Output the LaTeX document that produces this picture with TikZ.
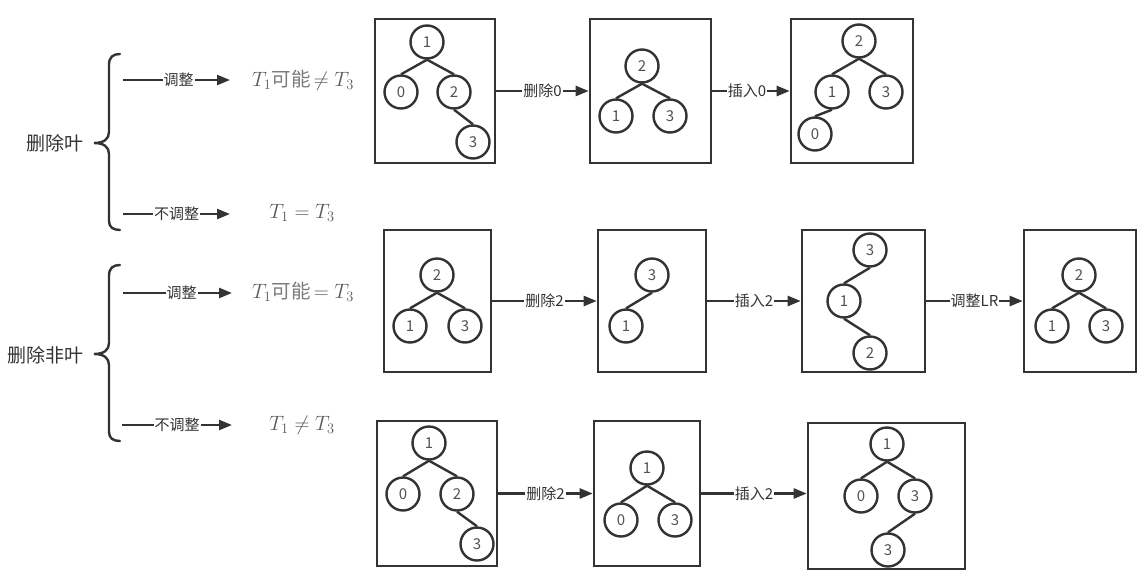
\documentclass[tikz,border=0pt]{standalone}
\usepackage{fontspec}
\setmainfont{Noto Sans CJK SC}
\usetikzlibrary{arrows.meta}
\definecolor{ink}{HTML}{333333}
\definecolor{mtext}{HTML}{5a5a5a}
\definecolor{ctext}{HTML}{7a7a7a}
\begin{document}
\begin{tikzpicture}[x=1pt,y=-1pt,
 box/.style={draw=ink,line width=2.6pt,inner sep=0pt},
 tn/.style={circle,draw=ink,line width=2.4pt,minimum size=33pt,inner sep=0pt,font=\fontsize{15}{15}\selectfont,text=ink!85},
 te/.style={draw=ink,line width=2.4pt},
 flow/.style={draw=ink,line width=2.4pt,-{Triangle[length=13pt,width=10pt]}},
 lbl/.style={fill=white,inner sep=1pt,font=\fontsize{15}{15}\selectfont,text=ink},
 big/.style={font=\fontsize{19}{19}\selectfont,text=ink},
 res/.style={font=\fontsize{19.5}{20}\selectfont,text=mtext},
 brace/.style={draw=ink,line width=2.4pt,line cap=round}]
\useasboundingbox (0,0) rectangle (1144,584);

% ---------- left part ----------
\node[big,anchor=east] (leaf) at (87,143) {删除叶};
\node[big,anchor=east] (nonleaf) at (87,355) {删除非叶};

\draw[brace] (120,54) .. controls (113,54) and (109,57) .. (109,65) -- (109,132)
  .. controls (109,139) and (104,143) .. (94,143)
  .. controls (104,143) and (109,147) .. (109,154) -- (109,221)
  .. controls (109,227) and (113,230) .. (120,230);
\draw[brace] (120,265) .. controls (113,265) and (109,268) .. (109,276) -- (109,343)
  .. controls (109,350) and (104,354) .. (94,354)
  .. controls (104,354) and (109,358) .. (109,365) -- (109,432)
  .. controls (109,438) and (113,441) .. (120,441);

\coordinate (s1) at (123,80);  \coordinate (e1) at (230,80);
\coordinate (s2) at (123,214); \coordinate (e2) at (230,214);
\coordinate (s3) at (123,293); \coordinate (e3) at (232,293);
\coordinate (s4) at (122,425); \coordinate (e4) at (232,425);
\draw[flow] (s1) -- node[lbl,xshift=2pt]{调整} (e1);
\draw[flow] (s2) -- node[lbl]{不调整} (e2);
\draw[flow] (s3) -- node[lbl,xshift=4pt]{调整} (e3);
\draw[flow] (s4) -- node[lbl]{不调整} (e4);

\node[res] (r1) at (303,80) {$T_1${\color{ctext}可能}\,$\neq T_3$};
\node[res] (r2) at (302,213) {$T_1 = T_3$};
\node[res] (r3) at (303,292) {$T_1${\color{ctext}可能}\,$= T_3$};
\node[res] (r4) at (302,425) {$T_1 \neq T_3$};

% ---------- boxes ----------
\node[box,minimum width=120pt,minimum height=144pt] (A) at (435,91) {};
\node[box,minimum width=121pt,minimum height=144pt] (B) at (650.5,91) {};
\node[box,minimum width=122pt,minimum height=144pt] (C) at (852,91) {};
\node[box,minimum width=107pt,minimum height=142pt] (D) at (437.5,301) {};
\node[box,minimum width=108pt,minimum height=142pt] (E) at (652,301) {};
\node[box,minimum width=123pt,minimum height=142pt] (F) at (863.5,301) {};
\node[box,minimum width=112pt,minimum height=142pt] (G) at (1080,301) {};
\node[box,minimum width=120pt,minimum height=145pt] (H) at (437,493.5) {};
\node[box,minimum width=106pt,minimum height=145pt] (I) at (647,493.5) {};
\node[box,minimum width=157pt,minimum height=146pt] (J) at (886.5,496) {};

% ---------- flow arrows ----------
\draw[flow] (A.east) -- node[lbl]{删除0} (B.west);
\draw[flow] (B.east) -- node[lbl,xshift=-4pt]{插入0} (C.west);
\draw[flow] (D.east) -- node[lbl]{删除2} (E.west);
\draw[flow] (E.east) -- node[lbl]{插入2} (F.west);
\draw[flow] (F.east) -- node[lbl]{调整LR} (G.west);
\draw[flow] (H.east) -- node[lbl]{删除2} (I.west);
\draw[flow] (I.east) -- node[lbl]{插入2} (I.east -| J.west);

% ---------- trees ----------
% A
\node[tn] (a1) at (427,42) {1};
\node[tn] (a0) at (401,92) {0};
\node[tn] (a2) at (454,92) {2};
\node[tn] (a3) at (473,142) {3};
\draw[te] (a1.south) -- (a0.north);
\draw[te] (a1.south) -- (a2.north);
\draw[te] (a2.south) -- (a3.north);
% B
\node[tn] (b2) at (642,66) {2};
\node[tn] (b1) at (616,116) {1};
\node[tn] (b3) at (670,116) {3};
\draw[te] (b2.south) -- (b1.north);
\draw[te] (b2.south) -- (b3.north);
% C
\node[tn] (c2) at (859,41) {2};
\node[tn] (c1) at (832,92) {1};
\node[tn] (c3) at (886,92) {3};
\node[tn] (c0) at (815,134) {0};
\draw[te] (c2.south) -- (c1.north);
\draw[te] (c2.south) -- (c3.north);
\draw[te] (c1.south) -- (c0.north);
% D
\node[tn] (d2) at (437,275) {2};
\node[tn] (d1) at (410,326) {1};
\node[tn] (d3) at (465,326) {3};
\draw[te] (d2.south) -- (d1.north);
\draw[te] (d2.south) -- (d3.north);
% E
\node[tn] (e3) at (652,275) {3};
\node[tn] (e1) at (626,326) {1};
\draw[te] (e3.south) -- (e1.north);
% F
\node[tn] (f3) at (870,250) {3};
\node[tn] (f1) at (844,301) {1};
\node[tn] (f2) at (870,353) {2};
\draw[te] (f3.south) -- (f1.north);
\draw[te] (f1.south) -- (f2.north);
% G
\node[tn] (g2) at (1079,275) {2};
\node[tn] (g1) at (1052,326) {1};
\node[tn] (g3) at (1106,326) {3};
\draw[te] (g2.south) -- (g1.north);
\draw[te] (g2.south) -- (g3.north);
% H
\node[tn] (h1) at (429,443) {1};
\node[tn] (h0) at (403,494) {0};
\node[tn] (h2) at (457,494) {2};
\node[tn] (h3) at (477,544) {3};
\draw[te] (h1.south) -- (h0.north);
\draw[te] (h1.south) -- (h2.north);
\draw[te] (h2.south) -- (h3.north);
% I
\node[tn] (i1) at (647,468) {1};
\node[tn] (i0) at (621,520) {0};
\node[tn] (i3) at (675,520) {3};
\draw[te] (i1.south) -- (i0.north);
\draw[te] (i1.south) -- (i3.north);
% J
\node[tn] (j1) at (887,444) {1};
\node[tn] (j0) at (861,496) {0};
\node[tn] (j3) at (915,496) {3};
\node[tn] (j4) at (888,550) {3};
\draw[te] (j1.south) -- (j0.north);
\draw[te] (j1.south) -- (j3.north);
\draw[te] (j3.south) -- (j4.north);
\end{tikzpicture}
\end{document}
